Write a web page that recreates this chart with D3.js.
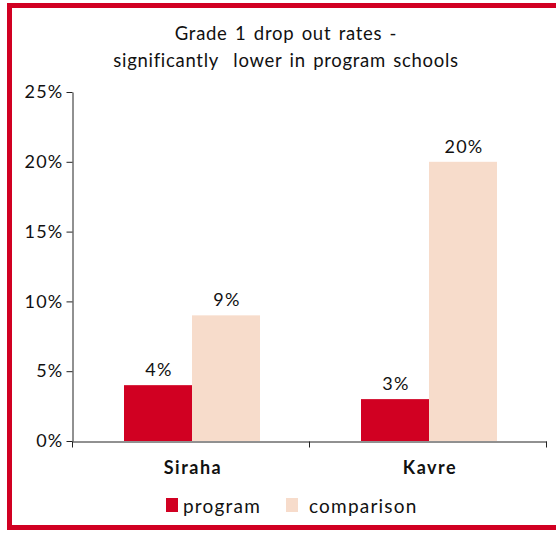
<!DOCTYPE html>
<html><head><meta charset="utf-8">
<script src="https://cdn.jsdelivr.net/npm/d3@7"></script>
<style>body{margin:0;background:#fff}svg{display:block}text{font-family:Lato,"Open Sans",sans-serif;fill:#111}</style>
</head><body><svg id="c" width="556" height="534"></svg>
<script>
const categories = ["Siraha", "Kavre"];
const seriesNames = ["program", "comparison"];
const programValues = [4, 3];
const comparisonValues = [9, 20];
const yTicks = [0, 5, 10, 15, 20, 25];
const titleLines = ["Grade 1 drop out rates -", "significantly  lower in program schools"];
const colors = ["#d10022", "#f7dccb"];

const svg = d3.select("#c");
// frame
svg.append("rect").attr("x", 9.5).attr("y", 5.5).attr("width", 560).attr("height", 522)
  .attr("fill", "none").attr("stroke", "#d10022").attr("stroke-width", 5);

const x0 = 72.5, x1 = 546.5, yTop = 92, yBot = 441;
const y = d3.scaleLinear().domain([0, 25]).range([yBot, yTop]);
const xb = d3.scaleBand().domain(categories).range([x0, x1]).paddingInner(0).paddingOuter(0);
const xs = d3.scaleBand().domain(seriesNames).range([0, 136]);

const title = svg.append("text").attr("text-anchor", "middle").attr("font-size", 18.5)
  .attr("xml:space", "preserve").style("letter-spacing", "0.7px").style("word-spacing", "2px");
titleLines.forEach((t, i) => title.append("tspan").attr("x", 286).attr("y", 40 + i * 27).text(t));

// y axis
const ya = svg.append("g").attr("transform", `translate(${x0},0)`)
  .call(d3.axisLeft(y).tickValues(yTicks).tickFormat(d => d + "%").tickSize(6).tickSizeOuter(0));
ya.select(".domain").attr("stroke", "#222");
ya.selectAll(".tick line").attr("stroke", "#222");
ya.selectAll(".tick text").attr("font-size", 18).attr("x", -9).attr("font-family", "Lato")
  .attr("fill", "#111").style("letter-spacing", "1.2px");

// bars
const data = categories.map((c, i) => ({c, vals: [programValues[i], comparisonValues[i]]}));
const g = svg.append("g");
data.forEach(d => {
  const cx = xb(d.c) + xb.bandwidth() / 2 + 1;
  d.vals.forEach((v, j) => {
    const bx = cx - 68 + xs(seriesNames[j]);
    g.append("rect").attr("x", bx).attr("y", y(v)).attr("width", xs.bandwidth()).attr("height", yBot - y(v))
      .attr("fill", colors[j]);
    g.append("text").attr("x", bx + xs.bandwidth() / 2 + 1).attr("y", y(v) - 9).attr("text-anchor", "middle")
      .attr("font-size", 18).style("letter-spacing", "1.2px").text(v + "%");
  });
});

// x axis
const xa = svg.append("g").attr("transform", `translate(0,${yBot + 0.5})`)
  .call(d3.axisBottom(xb).tickSize(0).tickSizeOuter(0).tickFormat(""));
xa.select(".domain").attr("stroke", "#222");
xa.selectAll(".tick").remove();
[x0, xb("Kavre"), x1].forEach(t => xa.append("line").attr("x1", t).attr("x2", t).attr("y1", 0).attr("y2", 6).attr("stroke", "#222"));
categories.forEach(c => svg.append("text").attr("x", xb(c) + xb.bandwidth() / 2 + 2).attr("y", 474)
  .attr("text-anchor", "middle").attr("font-size", 18).attr("font-weight", "bold")
  .style("letter-spacing", "1.5px").text(c));

// legend
const legX = [166, 286], textX = [183, 309];
seriesNames.forEach((s, i) => {
  svg.append("rect").attr("x", legX[i]).attr("y", 498).attr("width", 12).attr("height", 14).attr("fill", colors[i]);
  svg.append("text").attr("x", textX[i]).attr("y", 513).attr("font-size", 19)
    .style("letter-spacing", "1.2px").text(s);
});
</script></body></html>
